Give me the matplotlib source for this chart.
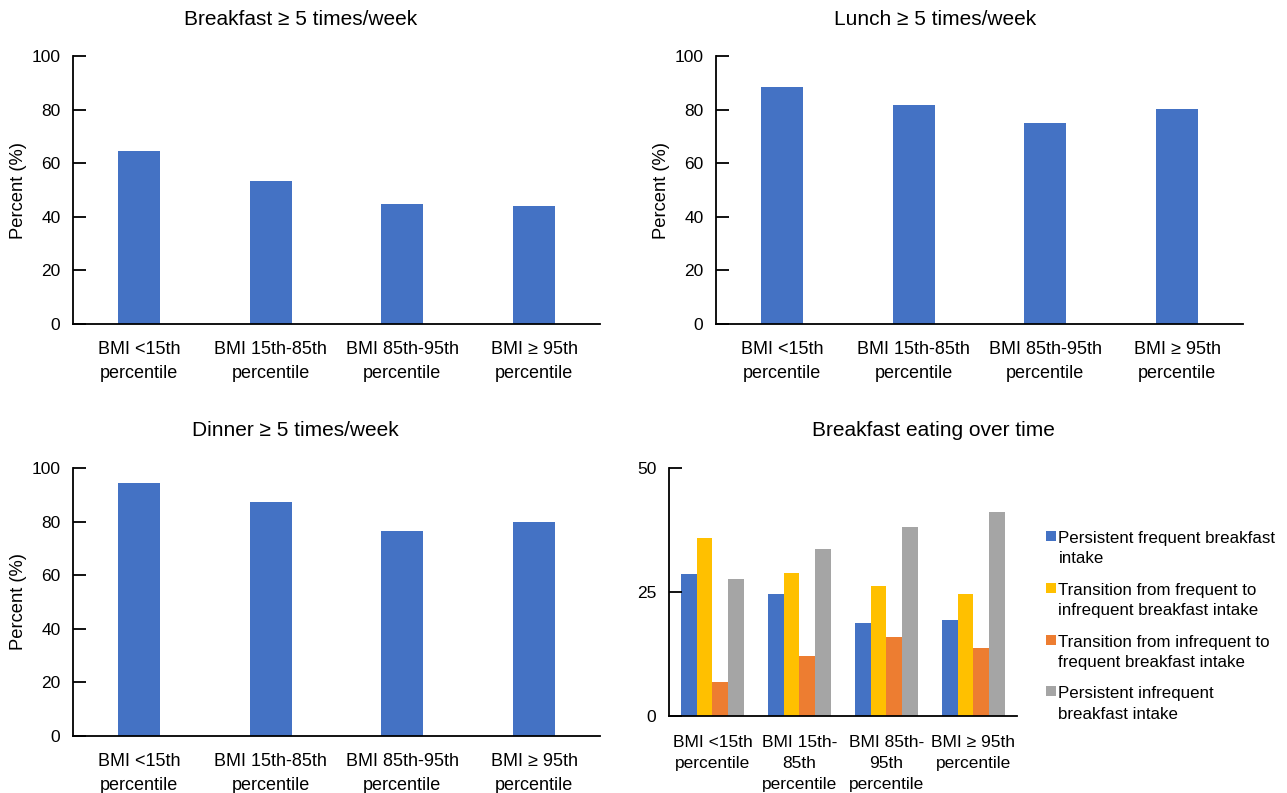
import matplotlib.pyplot as plt
from matplotlib.patches import Rectangle
from matplotlib.legend_handler import HandlerPatch, update_from_first_child
from matplotlib.container import BarContainer
import numpy as np

plt.rcParams['font.family'] = ['Liberation Sans', 'DejaVu Sans']

# categories
bmi_groups = ["BMI <15th\npercentile", "BMI 15th-85th\npercentile",
              "BMI 85th-95th\npercentile", "BMI \u2265 95th\npercentile"]
bmi_groups_short = ["BMI <15th\npercentile", "BMI 15th-\n85th\npercentile",
                    "BMI 85th-\n95th\npercentile", "BMI \u2265 95th\npercentile"]

# percent eating meal >= 5 times/week
breakfast = [64.6, 53.4, 44.8, 44.0]
lunch = [88.4, 81.7, 75.0, 80.2]
dinner = [94.4, 87.3, 76.5, 79.9]

# breakfast patterns over time
trend_labels = ["Persistent frequent breakfast\nintake",
                "Transition from frequent to\ninfrequent breakfast intake",
                "Transition from infrequent to\nfrequent breakfast intake",
                "Persistent infrequent\nbreakfast intake"]
persistent_freq = [28.7, 24.5, 18.8, 19.3]
freq_to_infreq = [35.8, 28.8, 26.3, 24.7]
infreq_to_freq = [6.9, 12.1, 15.9, 13.8]
persistent_infreq = [27.6, 33.7, 38.2, 41.2]

blue = "#4472C4"
colors = [blue, "#FFC000", "#ED7D31", "#A5A5A5"]
ytick_fs = 12.5
xtick_fs = 13
title_fs = 15

fig = plt.figure(figsize=(12.87, 7.93), dpi=100)


def style_axis(ax):
    ax.spines['top'].set_visible(False)
    ax.spines['right'].set_visible(False)
    ax.spines['left'].set_linewidth(1.3)
    ax.spines['bottom'].set_linewidth(1.3)
    ax.tick_params(axis='y', direction='in', length=9, width=1.3, labelsize=ytick_fs, pad=9)
    ax.tick_params(axis='x', length=0, labelsize=xtick_fs, pad=12)


def single_panel(rect, values, title, title_x, title_y):
    ax = fig.add_axes(rect)
    x = np.arange(len(values))
    ax.bar(x, values, width=0.32, color=blue)
    ax.set_xlim(-0.5, len(values) - 0.5)
    ax.set_ylim(0, 100)
    ax.set_yticks(range(0, 101, 20))
    ax.set_xticks(x)
    ax.set_xticklabels(bmi_groups, linespacing=1.55)
    ax.set_ylabel("Percent (%)", fontsize=13.2, labelpad=3)
    style_axis(ax)
    fig.text(title_x, title_y, title, ha='center', va='center', fontsize=title_fs)
    return ax


single_panel([0.0567, 0.5914, 0.4095, 0.338], breakfast,
             "Breakfast \u2265 5 times/week", 0.2335, 0.976)
single_panel([0.5563, 0.5914, 0.4095, 0.338], lunch,
             "Lunch \u2265 5 times/week", 0.7265, 0.976)
single_panel([0.0567, 0.0719, 0.4095, 0.338], dinner,
             "Dinner \u2265 5 times/week", 0.2295, 0.457)

# grouped panel
ax = fig.add_axes([0.5198, 0.0971, 0.2704, 0.3127])
series = [persistent_freq, freq_to_infreq, infreq_to_freq, persistent_infreq]
x = np.arange(len(bmi_groups_short))
w = 0.18
for i, (vals, lab) in enumerate(zip(series, trend_labels)):
    ax.bar(x + (i - 1.5) * w, vals, width=w, color=colors[i], label=lab)
ax.set_xlim(-0.5, 3.5)
ax.set_ylim(0, 50)
ax.set_yticks([0, 25, 50])
ax.set_xticks(x)
ax.set_xticklabels(bmi_groups_short, linespacing=1.5)
style_axis(ax)
ax.tick_params(axis='x', labelsize=12.5, pad=14)
fig.text(0.7253, 0.457, "Breakfast eating over time", ha='center', va='center', fontsize=title_fs)

leg_fs = 12.2
leg_ls = 1.45
line_pts = leg_ls * leg_fs * 1.126 * 0.72  # one text line, in points


def top_square(legend, orig_handle, xdescent, ydescent, width, height, fontsize):
    # put the square next to the first line of a two-line label
    s = width + 0.5
    return Rectangle((-xdescent, -ydescent + line_pts + 0.08 * fontsize - 5.5), s, s)


leg = ax.legend(loc='upper left', bbox_to_anchor=(1.063, 0.774), frameon=False,
                fontsize=leg_fs, handlelength=0.55, handleheight=0.7, handletextpad=0.2,
                labelspacing=0.97, borderaxespad=0,
                handler_map={BarContainer: HandlerPatch(patch_func=top_square,
                                                        update_func=update_from_first_child)})
for t in leg.get_texts():
    t.set_linespacing(leg_ls)

fig.savefig("out.png", dpi=100)
